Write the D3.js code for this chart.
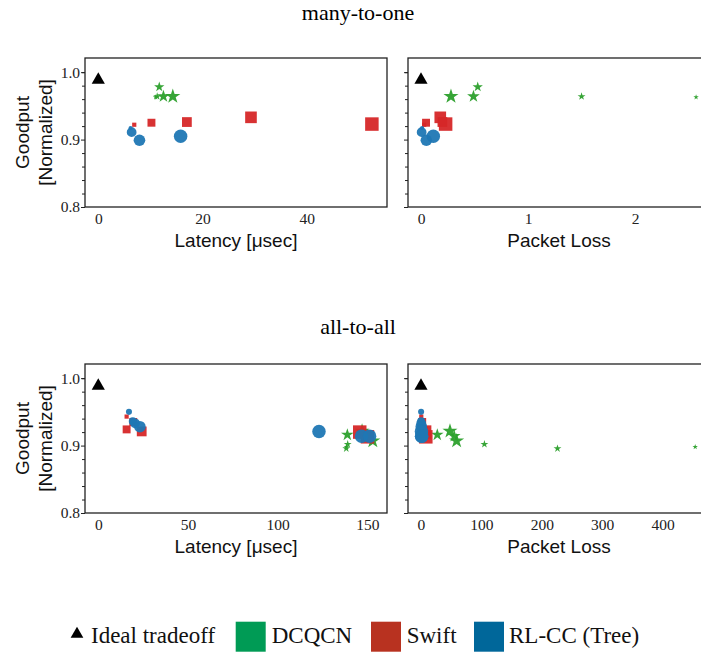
<!DOCTYPE html>
<html>
<head>
<meta charset="utf-8">
<script src="https://cdn.jsdelivr.net/npm/d3@7"></script>
<style>
  body { margin: 0; background: #fff; }
  svg { display: block; }
</style>
</head>
<body>
<svg id="chart" width="701" height="653"></svg>
<script>
// ---- data ----
// size level = marker size encoding in the original plot (1 = smallest)

// many-to-one
var m2oDcqcnLatency = [11.0, 11.3, 11.7, 12.5, 14.3];
var m2oDcqcnLoss    = [2.57, 1.5, 0.53, 0.49, 0.28];
var m2oDcqcnGoodput = [0.963, 0.964, 0.978, 0.964, 0.964];
var m2oDcqcnSize    = [1, 2, 3, 4, 5];

var m2oSwiftLatency = [6.9, 10.2, 17.0, 29.3, 52.5];
var m2oSwiftLoss    = [0.03, 0.047, 0.2, 0.18, 0.23];
var m2oSwiftGoodput = [0.922, 0.925, 0.926, 0.933, 0.923];
var m2oSwiftSize    = [1, 3, 4, 5, 6];

var m2oRlccLatency = [6.2, 6.4, 7.9, 15.8];
var m2oRlccLoss    = [0.01, 0.006, 0.05, 0.115];
var m2oRlccGoodput = [0.917, 0.911, 0.899, 0.905];
var m2oRlccSize    = [1, 4, 5, 6];

// all-to-all
var a2aDcqcnLatency = [138.3, 138.2, 139.0, 153.0, 150.0, 138.8, 147.0];
var a2aDcqcnLoss    = [454, 226, 105, 59, 55, 27, 48];
var a2aDcqcnGoodput = [0.898, 0.8956, 0.902, 0.907, 0.914, 0.916, 0.9215];
var a2aDcqcnSize    = [1, 2, 2, 5, 4, 4, 5];

var a2aSwiftLatency = [15.8, 15.8, 19.5, 24.2, 145.7, 150.0];
var a2aSwiftLoss    = [0.5, 1, 2, 3, 6, 8];
var a2aSwiftGoodput = [0.943, 0.924, 0.935, 0.921, 0.92, 0.913];
var a2aSwiftSize    = [1, 3, 3, 4, 6, 6];

var a2aRlccLatency = [17.1, 19.2, 20.5, 23.2, 123.0, 146.7, 151.2];
var a2aRlccLoss    = [0.2, 0.3, 0.4, 0.5, 0.8, 1.0, 1.2];
var a2aRlccGoodput = [0.950, 0.936, 0.933, 0.928, 0.921, 0.914, 0.914];
var a2aRlccSize    = [2, 3, 4, 5, 6, 6, 6];

var ideal = { x: 0, goodput: 0.99 };

var latencyTicksM2O = [0, 20, 40];
var lossTicksM2O = [0, 1, 2];
var latencyTicksA2A = [0, 50, 100, 150];
var lossTicksA2A = [0, 100, 200, 300, 400];
var goodputTicks = [0.8, 0.9, 1.0];

var legendLabels = ["DCQCN", "Swift", "RL-CC (Tree)"];

// ---- helpers ----
function zipSeries(xs, gs, ss) {
	var out = [];
	for (var i = 0; i < xs.length; i++) {
		out.push({ x: xs[i], y: gs[i], s: ss[i] });
	}
	return out;
}

var markerColor = { dcqcn: "#2ca02c", swift: "#d62728", rlcc: "#1f77b4" };
var legendColor = ["#009b55", "#b83220", "#00679a"];

// marker "diameter" in px from size level
var sizeScale = d3.scaleLinear().domain([1, 6]).range([4.2, 13.5]);

function markerPath(kind, level) {
	var d = sizeScale(level);
	if (kind == "swift") {
		return d3.symbol().type(d3.symbolSquare).size(d * d)();
	} else if (kind == "rlcc") {
		return d3.symbol().type(d3.symbolCircle).size(Math.PI * d * d / 4)();
	}
	// star: outer radius a bit larger than half the diameter
	var r = d * 0.68;
	return d3.symbol().type(d3.symbolStar).size(r * r / 0.8908130915292852)();
}

var svg = d3.select("#chart");
var serif = "'Liberation Serif', 'Times New Roman', serif";
var sans = "'Liberation Sans', Arial, sans-serif";

var Y_DOMAIN = [0.8, 1.021];

var panels = [
	{ x0: 85,  x1: 387, y0: 58,  y1: 207, dom: [-2.55, 55.4], ticks: latencyTicksM2O, key: "latency", scen: "m2o", label: "Latency [\u03bcsec]", yLabels: true },
	{ x0: 408, x1: 710, y0: 58,  y1: 207, dom: [-0.1215, 2.70], ticks: lossTicksM2O, key: "loss", scen: "m2o", label: "Packet Loss", yLabels: false },
	{ x0: 85,  x1: 387, y0: 364, y1: 513, dom: [-7.4, 160.9], ticks: latencyTicksA2A, key: "latency", scen: "a2a", label: "Latency [\u03bcsec]", yLabels: true },
	{ x0: 408, x1: 710, y0: 364, y1: 513, dom: [-21.5, 478.5], ticks: lossTicksA2A, key: "loss", scen: "a2a", label: "Packet Loss", yLabels: false }
];

var seriesData = {
	m2o: {
		latency: { dcqcn: zipSeries(m2oDcqcnLatency, m2oDcqcnGoodput, m2oDcqcnSize), swift: zipSeries(m2oSwiftLatency, m2oSwiftGoodput, m2oSwiftSize), rlcc: zipSeries(m2oRlccLatency, m2oRlccGoodput, m2oRlccSize) },
		loss:    { dcqcn: zipSeries(m2oDcqcnLoss, m2oDcqcnGoodput, m2oDcqcnSize), swift: zipSeries(m2oSwiftLoss, m2oSwiftGoodput, m2oSwiftSize), rlcc: zipSeries(m2oRlccLoss, m2oRlccGoodput, m2oRlccSize) }
	},
	a2a: {
		latency: { dcqcn: zipSeries(a2aDcqcnLatency, a2aDcqcnGoodput, a2aDcqcnSize), swift: zipSeries(a2aSwiftLatency, a2aSwiftGoodput, a2aSwiftSize), rlcc: zipSeries(a2aRlccLatency, a2aRlccGoodput, a2aRlccSize) },
		loss:    { dcqcn: zipSeries(a2aDcqcnLoss, a2aDcqcnGoodput, a2aDcqcnSize), swift: zipSeries(a2aSwiftLoss, a2aSwiftGoodput, a2aSwiftSize), rlcc: zipSeries(a2aRlccLoss, a2aRlccGoodput, a2aRlccSize) }
	}
};

// titles
svg.append("text").attr("x", 358).attr("y", 20).attr("text-anchor", "middle")
	.style("font-family", serif).style("font-size", "22px").text("many-to-one");
svg.append("text").attr("x", 358).attr("y", 334).attr("text-anchor", "middle")
	.style("font-family", serif).style("font-size", "22px").text("all-to-all");

panels.forEach(function(p) {
	var x = d3.scaleLinear().domain(p.dom).range([p.x0, p.x1]);
	var y = d3.scaleLinear().domain(Y_DOMAIN).range([p.y1, p.y0]);

	var g = svg.append("g");

	// y minor ticks
	var minor = d3.range(0.82, 1.0, 0.02).filter(function(v) { return Math.abs(v - 0.9) > 1e-6; });
	g.append("g").attr("transform", "translate(" + p.x0 + ",0)")
		.call(d3.axisLeft(y).tickValues(minor).tickFormat("").tickSize(3).tickSizeOuter(0))
		.call(function(a) { a.select(".domain").remove(); a.selectAll("line").attr("stroke", "#222"); });

	// y major ticks
	var yAxis = g.append("g").attr("transform", "translate(" + p.x0 + ",0)")
		.call(d3.axisLeft(y).tickValues(goodputTicks)
			.tickFormat(p.yLabels ? d3.format(".1f") : "")
			.tickSize(4).tickPadding(1).tickSizeOuter(0));
	yAxis.select(".domain").remove();
	yAxis.selectAll("line").attr("stroke", "#222");
	yAxis.selectAll("text").style("font-family", serif).style("font-size", "15.5px").attr("fill", "#222");

	// x axis
	var xAxis = g.append("g").attr("transform", "translate(0," + p.y1 + ")")
		.call(d3.axisBottom(x).tickValues(p.ticks).tickSize(0).tickPadding(6).tickFormat(d3.format("d")));
	xAxis.select(".domain").remove();
	xAxis.selectAll("text").style("font-family", serif).style("font-size", "15.5px").attr("fill", "#222");

	// markers, clipped to panel
	var clipId = "clip-" + p.scen + "-" + p.key;
	svg.append("clipPath").attr("id", clipId).append("rect")
		.attr("x", p.x0).attr("y", p.y0).attr("width", p.x1 - p.x0).attr("height", p.y1 - p.y0);
	var marks = g.append("g").attr("clip-path", "url(#" + clipId + ")");

	var sd = seriesData[p.scen][p.key];
	["dcqcn", "swift", "rlcc"].forEach(function(kind) {
		marks.selectAll("path." + kind).data(sd[kind]).enter().append("path")
			.attr("class", kind)
			.attr("d", function(d) { return markerPath(kind, d.s); })
			.attr("transform", function(d) { return "translate(" + x(d.x) + "," + y(d.y) + ")"; })
			.attr("fill", markerColor[kind])
			.attr("fill-opacity", 0.95);
	});

	marks.append("path")
		.attr("d", d3.symbol().type(d3.symbolTriangle).size(75)())
		.attr("transform", "translate(" + x(ideal.x) + "," + (y(ideal.goodput) + 1) + ")")
		.attr("fill", "#000");

	// frame
	g.append("rect").attr("x", p.x0).attr("y", p.y0)
		.attr("width", p.x1 - p.x0).attr("height", p.y1 - p.y0)
		.attr("fill", "none").attr("stroke", "#222").attr("stroke-width", 1.3);

	// x label
	g.append("text").attr("x", (p.x0 + p.x1) / 2).attr("y", p.y1 + 40)
		.attr("text-anchor", "middle")
		.style("font-family", sans).style("font-size", "19px").attr("fill", "#111")
		.text(p.label);

	// y label
	if (p.yLabels) {
		var cy = (p.y0 + p.y1) / 2;
		var yl = g.append("text").attr("transform", "translate(0," + cy + ") rotate(-90)")
			.attr("text-anchor", "middle")
			.style("font-family", sans).style("font-size", "19px").attr("fill", "#111");
		yl.append("tspan").attr("x", 0).attr("y", 29).text("Goodput");
		yl.append("tspan").attr("x", 0).attr("y", 52).text("[Normalized]");
	}
});

// legend
var legend = svg.append("g");
legend.append("path")
	.attr("d", d3.symbol().type(d3.symbolTriangle).size(70)())
	.attr("transform", "translate(77,634)")
	.attr("fill", "#000");
legend.append("text").attr("x", 91).attr("y", 643)
	.style("font-family", serif).style("font-size", "23px").attr("fill", "#111")
	.text("Ideal tradeoff");

var boxX = [235.7, 371, 474];
var textX = [271.7, 406.7, 509];
legendLabels.forEach(function(name, i) {
	legend.append("rect").attr("x", boxX[i]).attr("y", 621.7).attr("width", 30).attr("height", 30)
		.attr("fill", legendColor[i]);
	legend.append("text").attr("x", textX[i]).attr("y", 643)
		.style("font-family", serif).style("font-size", "23px").attr("fill", "#111")
		.text(name);
});
</script>
</body>
</html>
